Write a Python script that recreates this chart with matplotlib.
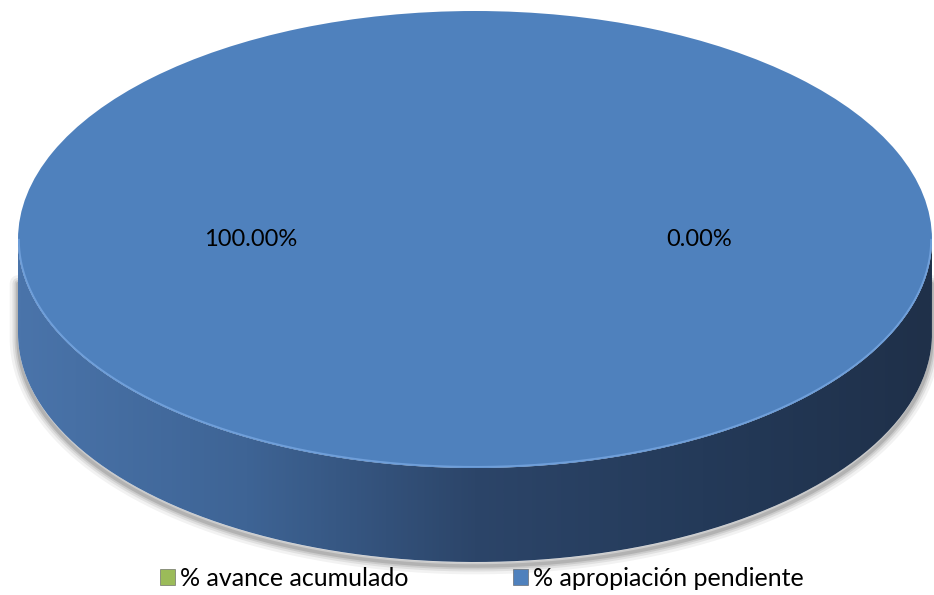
import numpy as np
import matplotlib
matplotlib.use("Agg")
import matplotlib.pyplot as plt
from matplotlib.colors import LinearSegmentedColormap
from matplotlib.patches import Patch, PathPatch, Polygon
from matplotlib.path import Path

plt.rcParams["font.family"] = ["Lato", "DejaVu Sans"]

# slices, in series order
categories = ["% avance acumulado", "% apropiación pendiente"]
values = [0.0, 100.0]
colors = ["#9bbb59", "#4f81bd"]

W, H = 934, 595
cx, cy = 475, 239.5      # centre of the top face (px)
a, b = 457, 228.5        # semi-axes of the top face
depth = 94               # height of the disc wall

fig = plt.figure(figsize=(W / 100, H / 100), dpi=100)
fig.patch.set_facecolor("white")

# pixel-space axes for the wall and shadow
ax = fig.add_axes([0, 0, 1, 1])
ax.set_xlim(0, W)
ax.set_ylim(H, 0)
ax.axis("off")

t_front = np.linspace(np.pi, 0, 200)
t_back = np.linspace(0, np.pi, 200)

# soft drop shadow under the wall only
sh_x = np.concatenate([[cx - a], cx + a * np.cos(t_back[::-1]), [cx + a]])
sh_y = np.concatenate([[cy + 40], cy + depth + b * np.sin(t_back[::-1]), [cy + 40]])
for lw, al in [(12, 0.05), (8, 0.07), (5, 0.09), (2.5, 0.12)]:
    ax.plot(sh_x, sh_y + 4, color="black", lw=lw, alpha=al,
            solid_joinstyle="round", solid_capstyle="round", zorder=1)
sil_x = np.concatenate([cx + a * np.cos(t_front), cx + a * np.cos(t_back)])
sil_y = np.concatenate([cy - b * np.sin(t_front), cy + depth + b * np.sin(t_back)])
ax.add_patch(Polygon(np.column_stack([sil_x, sil_y]), closed=True,
                     facecolor="white", edgecolor="none", zorder=1.5))

# front wall with a horizontal light-to-dark gradient
wall_x = np.concatenate([cx + a * np.cos(t_front), cx + a * np.cos(t_back)])
wall_y = np.concatenate([cy + b * np.sin(t_front), cy + depth + b * np.sin(t_back)])
wall = PathPatch(Path(np.column_stack([wall_x, wall_y])), facecolor="none",
                 edgecolor="none", zorder=2)
ax.add_patch(wall)
wall_cmap = LinearSegmentedColormap.from_list(
    "wall", ["#4a74aa", "#3e6495", "#2c4569", "#243a59", "#1f3049"])
grad = np.linspace(0, 1, 512).reshape(1, -1)
img = ax.imshow(grad, cmap=wall_cmap, extent=(cx - a, cx + a, cy + depth + b + 2, cy - 2),
                aspect="auto", zorder=2, interpolation="bilinear")
img.set_clip_path(wall)
ax.set_xlim(0, W)
ax.set_ylim(H, 0)

# top face: a pie squashed into the ellipse
pie_ax = fig.add_axes([(cx - a) / W, 1 - (cy + b) / H, 2 * a / W, 2 * b / H])
pie_ax.patch.set_alpha(0)
wedges, texts, autotexts = pie_ax.pie(
    values, colors=colors, startangle=0, counterclock=True,
    autopct="%.2f%%", pctdistance=0.49, radius=1.0,
    wedgeprops=dict(edgecolor="none", linewidth=0),
    textprops=dict(fontsize=17, color="black"))
pie_ax.set_aspect("auto")
pie_ax.set_xlim(-1, 1)
pie_ax.set_ylim(-1, 1)
pie_ax.axis("off")

# light bevel along the front rim of the top face
tt = np.linspace(np.pi, 2 * np.pi, 200)
pie_ax.plot(np.cos(tt) * 0.998, np.sin(tt) * 0.995, color="#6f9fda", lw=1.3,
            solid_capstyle="round")

handles = [Patch(facecolor=c, edgecolor="#5a5a5a", linewidth=0.4) for c in colors]
fig.legend(handles, categories, loc="center", bbox_to_anchor=(482 / W, 1 - 578 / H),
           ncol=2, frameon=False, fontsize=18, handlelength=0.6, handleheight=0.6,
           handletextpad=0.2, columnspacing=4.2, borderaxespad=0)

fig.savefig("out.png", dpi=100)
